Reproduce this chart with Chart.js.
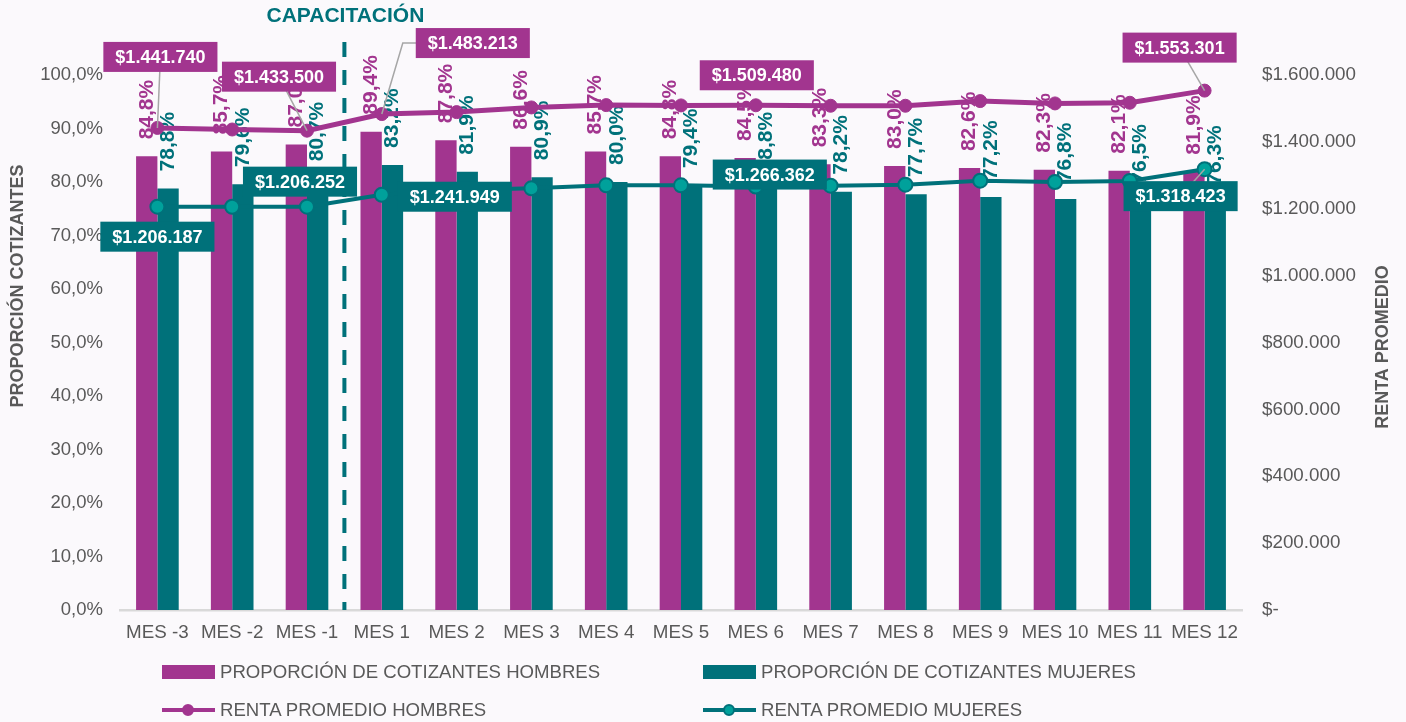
<!DOCTYPE html>
<html>
<head>
<meta charset="utf-8">
<script src="https://cdn.jsdelivr.net/npm/chart.js@4/dist/chart.umd.min.js"></script>
<style>
  body{margin:0;background:#fbf9fc;font-family:"Liberation Sans",Arial,sans-serif;}
  #wrap{position:relative;width:1406px;height:722px;}
  .leg{position:absolute;display:flex;align-items:center;font-size:18.6px;color:#595959;white-space:nowrap;}
  .sw{display:inline-block;width:53px;height:14px;margin-right:5px;}
  .ln{position:relative;display:inline-block;width:53px;height:14px;margin-right:5px;}
  .ln i{position:absolute;left:0;right:0;top:5px;height:4px;}
  .ln b{position:absolute;left:20px;top:1px;width:12px;height:12px;border-radius:50%;box-sizing:border-box;border:2px solid;}
</style>
</head>
<body>
<div id="wrap">
  <canvas id="chart" width="1406" height="722"></canvas>
  <div class="leg" style="left:162px;top:661px"><span class="sw" style="background:#a2358f"></span>PROPORCIÓN DE COTIZANTES HOMBRES</div>
  <div class="leg" style="left:703px;top:661px"><span class="sw" style="background:#00717a"></span>PROPORCIÓN DE COTIZANTES MUJERES</div>
  <div class="leg" style="left:162px;top:699px"><span class="ln"><i style="background:#a2358f"></i><b style="background:#a2358f;border-color:#a2358f"></b></span>RENTA PROMEDIO HOMBRES</div>
  <div class="leg" style="left:703px;top:699px"><span class="ln"><i style="background:#00717a"></i><b style="background:#00a19b;border-color:#00717a"></b></span>RENTA PROMEDIO MUJERES</div>
</div>
<script>
const FONT = '"Liberation Sans", Arial, sans-serif';
const PURPLE = '#a2358f';
const TEAL = '#00717a';

const meses = ['MES -3','MES -2','MES -1','MES 1','MES 2','MES 3','MES 4','MES 5','MES 6','MES 7','MES 8','MES 9','MES 10','MES 11','MES 12'];
const propHombres = [84.8,85.7,87.0,89.4,87.8,86.6,85.7,84.8,84.5,83.3,83.0,82.6,82.3,82.1,81.9];
const propMujeres = [78.8,79.6,80.7,83.2,81.9,80.9,80.0,79.4,78.8,78.2,77.7,77.2,76.8,76.5,76.3];
const rentaHombres = [1441740,1437000,1433500,1483213,1489000,1503000,1510000,1509000,1509480,1508000,1508000,1522000,1515000,1517000,1553301];
const rentaMujeres = [1206187,1206000,1206252,1241949,1255000,1261000,1270000,1270000,1266362,1269000,1272000,1284000,1280000,1283000,1318423];

// which points get a boxed label, and where the box sits relative to the point
const cajasHombres = [
  {i:0, dx:3, dy:-71, leader:true},
  {i:2, dx:-28, dy:-54, leader:true},
  {i:3, dx:91, dy:-71, leader:true, elbow:21},
  {i:8, dx:1, dy:-30},
  {i:14, dx:-25, dy:-43, leader:true}
];
const cajasMujeres = [
  {i:0, dx:0, dy:30},
  {i:2, dx:-7, dy:-25},
  {i:3, dx:73, dy:2},
  {i:8, dx:14, dy:-12},
  {i:14, dx:-24, dy:27, leader:true}
];

function miles(n){ return String(Math.round(n)).replace(/\B(?=(\d{3})+(?!\d))/g,'.'); }
function pct(v){ return v.toFixed(1).replace('.',',') + '%'; }

const extras = {
  id:'extras',
  afterDatasetDraw(chart, args){
    const ds = chart.data.datasets[args.index];
    if(ds.type !== 'bar') return;
    const ctx = chart.ctx;
    ctx.save();
    ctx.font = 'bold 21px ' + FONT;
    ctx.fillStyle = ds.backgroundColor;
    ctx.textAlign = 'left';
    ctx.textBaseline = 'middle';
    args.meta.data.forEach((bar,i)=>{
      ctx.save();
      ctx.translate(bar.x, bar.y - 17);
      ctx.rotate(-Math.PI/2);
      ctx.fillText(pct(ds.data[i]), 0, 0);
      ctx.restore();
    });
    ctx.restore();
  },
  afterDatasetsDraw(chart){
    const ctx = chart.ctx;
    const x = chart.scales.x;
    const area = chart.chartArea;

    // CAPACITACION marker between MES -1 and MES 1
    const xc = (x.getPixelForValue(2) + x.getPixelForValue(3)) / 2;
    ctx.save();
    ctx.strokeStyle = TEAL;
    ctx.lineWidth = 4;
    ctx.setLineDash([15,13]);
    ctx.beginPath();
    ctx.moveTo(xc, 42);
    ctx.lineTo(xc, area.bottom);
    ctx.stroke();
    ctx.setLineDash([]);
    ctx.font = 'bold 21px ' + FONT;
    ctx.fillStyle = TEAL;
    ctx.textAlign = 'center';
    ctx.textBaseline = 'middle';
    ctx.fillText('CAPACITACIÓN', xc + 1, 16);
    ctx.restore();

    // boxed labels for the lines
    const dibujar = (dsIndex, cajas, color) => {
      const meta = chart.getDatasetMeta(dsIndex);
      const data = chart.data.datasets[dsIndex].data;
      ctx.save();
      ctx.font = 'bold 18px ' + FONT;
      cajas.forEach(c=>{
        const p = meta.data[c.i];
        const txt = '$' + miles(data[c.i]);
        const w = ctx.measureText(txt).width + 24;
        const h = 30;
        const bx = p.x + c.dx, by = p.y + c.dy;
        if(c.leader){
          ctx.strokeStyle = '#a6a6a6';
          ctx.lineWidth = 1.5;
          ctx.beginPath();
          ctx.moveTo(p.x, p.y);
          if(c.elbow) ctx.lineTo(p.x + c.elbow, by);
          ctx.lineTo(bx, by);
          ctx.stroke();
        }
        ctx.fillStyle = color;
        ctx.fillRect(bx - w/2, by - h/2, w, h);
        ctx.fillStyle = '#ffffff';
        ctx.textAlign = 'center';
        ctx.textBaseline = 'middle';
        ctx.fillText(txt, bx, by + 1);
      });
      ctx.restore();
    };
    dibujar(2, cajasHombres, PURPLE);
    dibujar(3, cajasMujeres, TEAL);

    // axis titles
    ctx.save();
    ctx.font = 'bold 18px ' + FONT;
    ctx.fillStyle = '#595959';
    ctx.textAlign = 'center';
    ctx.textBaseline = 'middle';
    ctx.translate(18, 286);
    ctx.rotate(-Math.PI/2);
    ctx.fillText('PROPORCIÓN COTIZANTES', 0, 0);
    ctx.restore();
    ctx.save();
    ctx.font = 'bold 18px ' + FONT;
    ctx.fillStyle = '#595959';
    ctx.textAlign = 'center';
    ctx.textBaseline = 'middle';
    ctx.translate(1383, 347);
    ctx.rotate(-Math.PI/2);
    ctx.fillText('RENTA PROMEDIO', 0, 0);
    ctx.restore();
  }
};

new Chart(document.getElementById('chart'), {
  data:{
    labels: meses,
    datasets:[
      {type:'bar', label:'PROPORCIÓN DE COTIZANTES HOMBRES', data:propHombres, backgroundColor:PURPLE, yAxisID:'y', order:2},
      {type:'bar', label:'PROPORCIÓN DE COTIZANTES MUJERES', data:propMujeres, backgroundColor:TEAL, yAxisID:'y', order:2},
      {type:'line', label:'RENTA PROMEDIO HOMBRES', data:rentaHombres, borderColor:PURPLE, backgroundColor:PURPLE,
        borderWidth:5, pointRadius:6.5, pointBackgroundColor:PURPLE, pointBorderColor:PURPLE, pointBorderWidth:1, yAxisID:'y1', order:1},
      {type:'line', label:'RENTA PROMEDIO MUJERES', data:rentaMujeres, borderColor:TEAL, backgroundColor:TEAL,
        borderWidth:4, pointRadius:7, pointBackgroundColor:'#00a19b', pointBorderColor:TEAL, pointBorderWidth:2, yAxisID:'y1', order:1}
    ]
  },
  options:{
    responsive:false,
    animation:false,
    devicePixelRatio:1,
    layout:{padding:{top:75, left:0, right:0, bottom:0}},
    plugins:{legend:{display:false}, tooltip:{enabled:false}},
    datasets:{bar:{categoryPercentage:0.57, barPercentage:1}},
    scales:{
      x:{
        grid:{display:false, drawTicks:false},
        border:{display:true, color:'#d9d9d9', width:2.5},
        ticks:{color:'#595959', font:{family:FONT, size:18.8}, padding:12, maxRotation:0, autoSkip:false},
        afterFit(s){ s.height = 112; }
      },
      y:{
        position:'left', min:0, max:100,
        grid:{display:false, drawTicks:false},
        border:{display:false},
        ticks:{stepSize:10, color:'#595959', font:{family:FONT, size:18.5}, padding:17,
          callback:v=>v.toFixed(1).replace('.',',') + '%'},
        afterFit(s){ s.width = 120; }
      },
      y1:{
        position:'right', min:0, max:1600000,
        grid:{display:false, drawTicks:false},
        border:{display:false},
        ticks:{stepSize:200000, color:'#595959', font:{family:FONT, size:18.8}, padding:20,
          callback:v=> v === 0 ? '$-' : '$' + miles(v)},
        afterFit(s){ s.width = 164; }
      }
    }
  },
  plugins:[extras]
});
</script>
</body>
</html>
